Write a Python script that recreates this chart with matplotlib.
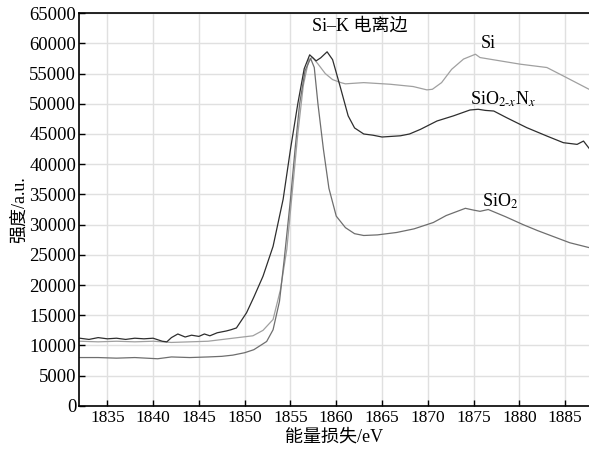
import numpy as np
import matplotlib
matplotlib.use("Agg")
import matplotlib.pyplot as plt

# ---- data ----
e_sion = [1832, 1833, 1834, 1835, 1836, 1837, 1838, 1839, 1840, 1841, 1841.5, 1842, 1842.7,
          1843.5, 1844.2, 1845, 1845.6, 1846.2, 1847, 1848, 1848.5, 1849.1, 1850.2, 1851,
          1852, 1853.1, 1854.2, 1855, 1855.8, 1856.5, 1857.1, 1857.8, 1858.3, 1859, 1859.6,
          1860.4, 1861.3, 1862, 1863, 1864, 1865, 1866, 1867, 1868, 1869.2, 1871, 1872.8,
          1874.6, 1875.5, 1876.3, 1877.2, 1878.6, 1880.8, 1883, 1884.8, 1886.3, 1887, 1887.7]
v_sion = [11200, 11000, 11300, 11100, 11200, 11000, 11200, 11100, 11200, 10700, 10600, 11300, 11900,
          11400, 11700, 11500, 11900, 11600, 12100, 12400, 12600, 12900, 15400, 18000,
          21450, 26400, 34200, 42450, 50000, 55800, 58100, 57100, 57600, 58600, 57300,
          53000, 48000, 46000, 45000, 44800, 44500, 44600, 44700, 45000, 45770, 47150, 48000,
          48970, 49090, 48900, 48800, 47700, 46050, 44660, 43560, 43280, 43830, 42450]

e_si = [1832, 1834, 1836, 1838, 1840, 1842, 1844, 1846, 1848.7, 1850.9, 1852, 1853.1, 1853.9,
        1854.6, 1855.3, 1855.8, 1856.4, 1857, 1857.4, 1858, 1858.8, 1859.6, 1860.5, 1861,
        1863, 1865.9, 1868.4, 1869.9, 1870.5, 1871.5, 1872.6, 1873.9, 1875.2, 1875.7, 1877.9,
        1880.1, 1883, 1884.8, 1887.6]
v_si = [10700, 10600, 10700, 10600, 10700, 10500, 10600, 10700, 11200, 11600, 12500, 14300, 19200,
        25900, 37000, 45000, 53000, 57300, 57700, 56600, 55000, 54000, 53500, 53300,
        53500, 53230, 52850, 52300, 52400, 53500, 55700, 57400, 58200, 57650, 57100,
        56550, 56000, 54600, 52400]

e_sio2 = [1832, 1834, 1836, 1838, 1840.5, 1842, 1844, 1846, 1847.5, 1848.7, 1850, 1851, 1852.4,
          1853.1, 1853.8, 1854.3, 1855, 1855.5, 1856, 1856.6, 1857.2, 1857.6, 1858, 1858.6,
          1859.2, 1860, 1861, 1862, 1863, 1864.5, 1866.6, 1868.5, 1870.6, 1872, 1874.1, 1875,
          1875.7, 1876.6, 1878.5, 1880.4, 1882, 1883.4, 1885.5, 1887.6]
v_sio2 = [8000, 8000, 7900, 8000, 7800, 8100, 8000, 8100, 8200, 8400, 8800, 9300, 10660,
          12600, 17300, 24000, 34200, 42450, 50000, 55500, 57500, 56000, 50000, 42450,
          36000, 31400, 29500, 28500, 28200, 28300, 28700, 29300, 30350, 31500, 32700, 32400,
          32200, 32500, 31300, 30000, 29000, 28200, 27000, 26200]

xticks = [1835, 1840, 1845, 1850, 1855, 1860, 1865, 1870, 1875, 1880, 1885]
yticks = list(range(0, 65001, 5000))

plt.rcParams['font.family'] = ['Liberation Serif', 'Noto Sans CJK SC']
plt.rcParams['mathtext.fontset'] = 'stix'
plt.rcParams['xtick.direction'] = 'in'
plt.rcParams['ytick.direction'] = 'in'

fig = plt.figure(figsize=(5.89, 4.53), dpi=100)
ax = fig.add_axes([0.134, 0.104, 0.866, 0.867])

ax.plot(e_si, v_si, c="#a0a0a0", lw=0.9)
ax.plot(e_sio2, v_sio2, c="#6e6e6e", lw=0.9)
ax.plot(e_sion, v_sion, c="#2e2e2e", lw=0.9)

ax.set_xlim(1831.9, 1887.6)
ax.set_ylim(0, 65000)
ax.set_xticks(xticks)
ax.set_yticks(yticks)
ax.tick_params(axis="x", labelsize=12.5, length=4, width=1, pad=3)
ax.tick_params(axis="y", labelsize=13.5, length=4, width=1, pad=2)
ax.grid(True, color="#e0e0e0", lw=1)
ax.set_axisbelow(True)
ax.spines['right'].set_visible(False)
for s in ['left', 'bottom', 'top']:
    ax.spines[s].set_linewidth(1.2)

ax.set_xlabel("能量损失/eV", fontsize=13, labelpad=2)
ax.set_ylabel("强度/a.u.", fontsize=13, labelpad=1)

ax.text(1862.6, 62800, "Si–K 电离边", fontsize=13, ha="center", va="center")
ax.text(1876.6, 59900, "Si", fontsize=13, ha="center", va="center")
ax.text(1878.2, 50700, r"SiO$_{2\text{-}x}$N$_{x}$", fontsize=13, ha="center", va="center")
ax.text(1877.9, 33800, r"SiO$_2$", fontsize=13, ha="center", va="center")

fig.savefig("out.png", dpi=100)
